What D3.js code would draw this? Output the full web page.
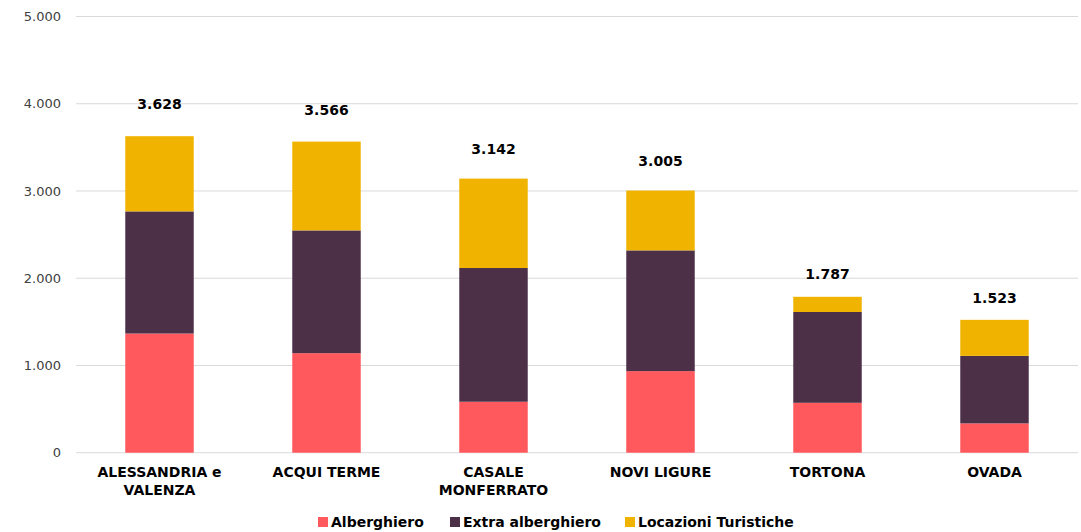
<!DOCTYPE html>
<html>
<head>
<meta charset="utf-8">
<script src="https://cdn.jsdelivr.net/npm/d3@7"></script>
<style>
  body { margin: 0; background: #fff; }
  text { font-family: "DejaVu Sans", sans-serif; }
</style>
</head>
<body>
<svg width="1081" height="532"></svg>
<script>
let categories = [['ALESSANDRIA e', 'VALENZA'], ['ACQUI TERME'], ['CASALE', 'MONFERRATO'], ['NOVI LIGURE'], ['TORTONA'], ['OVADA']];
let alberghiero = [1366, 1141, 584, 935, 572, 336];
let extraAlberghiero = [1400, 1407, 1533, 1384, 1041, 774];
let locazioni = [862, 1018, 1025, 686, 174, 413];
let totals = [3628, 3566, 3142, 3005, 1787, 1523];
let seriesNames = ['Alberghiero', 'Extra alberghiero', 'Locazioni Turistiche'];
let yTicks = [0, 1000, 2000, 3000, 4000, 5000];

let colors = ['#ff585d', '#4b3048', '#f0b400'];
let fmt = d3.formatLocale({ decimal: ',', thousands: '.', grouping: [3], currency: ['€', ''] }).format(',d');

let svg = d3.select('svg');
let plotLeft = 76, plotRight = 1078, plotTop = 16.5, plotBottom = 452.7;

let rows = categories.map((c, i) => ({
    key: i,
    a: alberghiero[i],
    e: extraAlberghiero[i],
    l: locazioni[i]
}));

let x = d3.scaleBand()
    .domain(d3.range(categories.length))
    .range([plotLeft, plotRight])
    .paddingInner(0.59)
    .paddingOuter(0.295);

let y = d3.scaleLinear()
    .domain([0, 5000])
    .range([plotBottom, plotTop]);

// totals sit on their own (slightly steeper) label axis, like the original
let yLabel = d3.scaleLinear()
    .domain([0, 5000])
    .range([438.4, 438.4 - 461]);

// gridlines
svg.append('g')
    .selectAll('line')
    .data(yTicks)
    .enter()
    .append('line')
        .attr('x1', plotLeft)
        .attr('x2', plotRight)
        .attr('y1', d => y(d))
        .attr('y2', d => y(d))
        .attr('stroke', '#d9d9d9')
        .attr('stroke-width', 1);

// y labels
svg.append('g')
    .selectAll('text')
    .data(yTicks)
    .enter()
    .append('text')
        .attr('x', 61)
        .attr('y', d => y(d))
        .attr('dy', '0.35em')
        .attr('text-anchor', 'end')
        .attr('font-size', 13)
        .attr('fill', '#404040')
        .text(d => fmt(d));

let stack = d3.stack().keys(['a', 'e', 'l'])(rows);

svg.append('g')
    .selectAll('g')
    .data(stack)
    .enter()
    .append('g')
        .attr('fill', (d, i) => colors[i])
    .selectAll('rect')
    .data(d => d)
    .enter()
    .append('rect')
        .attr('x', d => x(d.data.key))
        .attr('width', x.bandwidth())
        .attr('y', d => y(d[1]))
        .attr('height', d => y(d[0]) - y(d[1]));

// total labels
svg.append('g')
    .selectAll('text')
    .data(totals)
    .enter()
    .append('text')
        .attr('x', (d, i) => x(i) + x.bandwidth() / 2)
        .attr('y', d => yLabel(d))
        .attr('dy', '0.35em')
        .attr('text-anchor', 'middle')
        .attr('font-size', 14)
        .attr('font-weight', 'bold')
        .attr('fill', '#000')
        .text(d => fmt(d));

// category labels
let cat = svg.append('g')
    .selectAll('text')
    .data(categories)
    .enter()
    .append('text')
        .attr('x', (d, i) => x(i) + x.bandwidth() / 2)
        .attr('y', 477)
        .attr('text-anchor', 'middle')
        .attr('font-size', 14)
        .attr('font-weight', 'bold')
        .attr('fill', '#000');

cat.selectAll('tspan')
    .data(d => d)
    .enter()
    .append('tspan')
        .attr('x', function () { return d3.select(this.parentNode).attr('x'); })
        .attr('dy', (d, i) => i === 0 ? 0 : 18)
        .text(d => d);

// legend
let legendX = [318, 450, 625];
let legend = svg.append('g')
    .selectAll('g')
    .data(seriesNames)
    .enter()
    .append('g')
        .attr('transform', (d, i) => `translate(${legendX[i]}, 522)`);

legend.append('rect')
    .attr('x', 0)
    .attr('y', -5)
    .attr('width', 10)
    .attr('height', 10)
    .attr('fill', (d, i) => colors[i]);

legend.append('text')
    .attr('x', 13)
    .attr('dy', '0.35em')
    .attr('font-size', 14)
    .attr('font-weight', 'bold')
    .attr('fill', '#000')
    .text(d => d);
</script>
</body>
</html>
